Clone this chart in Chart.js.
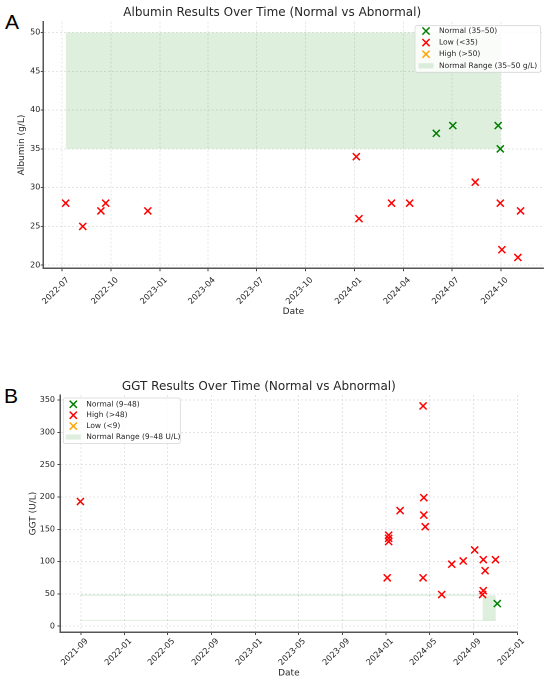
<!DOCTYPE html>
<html><head><meta charset="utf-8">
<script src="https://cdn.jsdelivr.net/npm/chart.js@4.4.1/dist/chart.umd.min.js"></script>
<style>
html,body{margin:0;padding:0;background:#fff;width:550px;height:683px;overflow:hidden;position:relative;}
canvas{position:absolute;left:0;}
.tag{position:absolute;font-family:"Liberation Sans",Arial,sans-serif;font-size:21px;line-height:21px;color:#000;}
</style></head><body>
<div class="tag" style="left:5px;top:10.5px">A</div>
<div class="tag" style="left:4px;top:385px">B</div>
<canvas id="c1" width="550" height="330" style="top:0;width:550px;height:330px"></canvas>
<canvas id="c2" width="550" height="343" style="top:340px;width:550px;height:343px"></canvas>
<script>
// ---------- Albumin data ----------
const albuminTicksX = ['2022-07','2022-10','2023-01','2023-04','2023-07','2023-10','2024-01','2024-04','2024-07','2024-10'];
const albuminTicksY = [20,25,30,35,40,45,50];
const albuminNormalDates = ['2024-06-02','2024-07-03','2024-09-26','2024-09-30'];
const albuminNormalValues = [37,38,38,35];
const albuminLowDates = ['2022-07-08','2022-08-09','2022-09-12','2022-09-21','2022-12-09','2024-01-04','2024-01-09','2024-03-10','2024-04-13','2024-08-14','2024-09-30','2024-10-03','2024-11-02','2024-11-07'];
const albuminLowValues = [28,25,27,28,27,34,26,28,28,30.7,28,22,21,27];
const albuminHighDates = [];
const albuminHighValues = [];
const albuminRange = [35,50];
const albuminRangeDates = ['2022-07-08','2024-10-01'];

// ---------- GGT data ----------
const ggtTicksX = ['2021-09','2022-01','2022-05','2022-09','2023-01','2023-05','2023-09','2024-01','2024-05','2024-09','2025-01'];
const ggtTicksY = [0,50,100,150,200,250,300,350];
const ggtNormalDates = ['2024-11-06'];
const ggtNormalValues = [35];
const ggtHighDates = ['2021-08-31','2024-01-04','2024-01-08','2024-01-08','2024-01-08','2024-02-09','2024-04-13','2024-04-13','2024-04-15','2024-04-15','2024-04-19','2024-06-04','2024-07-02','2024-08-03','2024-09-04','2024-09-26','2024-09-28','2024-09-28','2024-10-03','2024-11-01'];
const ggtHighValues = [193,75,141,136,131,179,341,75,199,172,154,49,96,101,118,49,55,103,86,103];
const ggtLowDates = [];
const ggtLowValues = [];
const ggtRange = [9,48];
const ggtRangeDates = ['2024-09-26','2024-11-02'];
const ggtRangeTraceStart = '2021-08-31';

const FONT = '"DejaVu Sans", sans-serif';
const TXT = '#262626';
const toMs = s => { const p = s.split('-').map(Number); return Date.UTC(p[0], p[1]-1, p[2] || 1); };
const pts = (dates, vals) => dates.map((d,i) => ({x: toMs(d), y: vals[i]}));
const seg = (d0, d1, v) => [{x: toMs(d0), y: v}, {x: toMs(d1), y: v}];

const boxLegend = {
  id: 'boxLegend',
  afterDatasetsDraw(chart) {
    const o = chart.options.plugins.boxLegend;
    if (!o || !o.x) return;
    const ctx = chart.ctx;
    ctx.save();
    ctx.beginPath();
    ctx.roundRect(o.x, o.y, o.w, o.h, 2);
    ctx.fillStyle = 'rgba(255,255,255,0.85)';
    ctx.fill();
    ctx.strokeStyle = '#d6d6d6';
    ctx.lineWidth = 0.8;
    ctx.stroke();
    const items = chart.data.datasets.filter(d => d.legendKind);
    items.forEach((d, i) => {
      const cy = o.rowY + i * o.rowGap;
      if (d.legendKind === 'marker') {
        const h = 3.6;
        ctx.strokeStyle = d.borderColor;
        ctx.lineWidth = 1.5;
        ctx.beginPath();
        ctx.moveTo(o.markerX - h, cy - h); ctx.lineTo(o.markerX + h, cy + h);
        ctx.moveTo(o.markerX - h, cy + h); ctx.lineTo(o.markerX + h, cy - h);
        ctx.stroke();
      } else {
        ctx.fillStyle = d.backgroundColor;
        ctx.fillRect(o.markerX - 7.5, cy - 2.6, 15, 5.2);
      }
      ctx.fillStyle = TXT;
      ctx.font = '7.5px ' + FONT;
      ctx.textBaseline = 'middle';
      ctx.textAlign = 'left';
      ctx.fillText(d.label, o.textX, cy);
    });
    ctx.restore();
  }
};

function scatterSet(label, data, color) {
  return { type: 'scatter', label, data, legendKind: 'marker', borderColor: color, backgroundColor: color,
    pointStyle: 'crossRot', pointRadius: 5, pointHoverRadius: 5, pointBorderWidth: 1.5, order: 1 };
}
function rangeSets(label, d0, d1, lo, hi) {
  const fillColor = 'rgba(0,128,0,0.13)';
  return [
    { type: 'line', label, legendKind: 'patch', data: seg(d0, d1, hi), fill: '+1', backgroundColor: fillColor,
      borderWidth: 0, pointRadius: 0, order: 3 },
    { type: 'line', label: label + ' low', data: seg(d0, d1, lo), fill: false, backgroundColor: fillColor,
      borderWidth: 0, pointRadius: 0, order: 3 }
  ];
}

function makeChart(id, c) {
  return new Chart(document.getElementById(id), {
    type: 'scatter',
    data: { datasets: c.datasets },
    plugins: [boxLegend],
    options: {
      responsive: false, animation: false, devicePixelRatio: 2,
      layout: { padding: { left: 0, right: c.padRight, top: 0, bottom: 0 } },
      plugins: {
        legend: { display: false }, tooltip: { enabled: false },
        title: { display: true, text: c.title, color: TXT, font: { family: FONT, size: 12, weight: 'normal' },
          padding: { top: c.titleTop, bottom: c.titleBottom } },
        boxLegend: c.legend
      },
      scales: {
        x: {
          type: 'linear', min: toMs(c.xMin), max: toMs(c.xMax),
          afterBuildTicks: s => { s.ticks = c.xTicks.map(t => ({ value: toMs(t) })); },
          afterFit: s => { s.height = c.xH; },
          ticks: { autoSkip: false, minRotation: 45, maxRotation: 45, padding: c.xTickPad, labelOffset: 6, color: TXT,
            font: { family: FONT, size: 8.2 }, callback: (v, i) => c.xTicks[i] },
          grid: { color: '#dedede', lineWidth: 0.8, tickColor: '#444', tickLength: 3, tickWidth: 1, tickBorderDash: [] },
          border: { display: true, color: '#555', width: 1.5, dash: [2, 2] },
          title: { display: true, text: 'Date', color: TXT, font: { family: FONT, size: 9 }, padding: { top: 0, bottom: c.xTitlePad } }
        },
        y: {
          type: 'linear', min: c.yMin, max: c.yMax,
          afterBuildTicks: s => { s.ticks = c.yTicks.map(v => ({ value: v })); },
          afterFit: s => { s.width = c.yW; },
          ticks: { padding: c.yTickPad, color: TXT, font: { family: FONT, size: 8 } },
          grid: { color: '#dedede', lineWidth: 0.8, tickColor: '#444', tickLength: 2.5, tickWidth: 1, tickBorderDash: [] },
          border: { display: true, color: '#555', width: 1.5, dash: [2, 2] },
          title: { display: true, text: c.yTitle, color: TXT, font: { family: FONT, size: 9 }, padding: { top: c.yTitlePad, bottom: 0 } }
        }
      }
    }
  });
}

makeChart('c1', {
  title: 'Albumin Results Over Time (Normal vs Abnormal)',
  titleTop: 5.5, titleBottom: 1.8,
  xMin: '2022-05-27', xMax: '2024-12-20', xTicks: albuminTicksX, xH: 61.7, xTitlePad: 12.9, xTickPad: 4,
  yMin: 19.6, yMax: 51.4, yTicks: albuminTicksY, yW: 43.3, yTickPad: 0.5, yTitle: 'Albumin (g/L)', yTitlePad: 16.3,
  padRight: 5.6,
  legend: { x: 415, y: 25.7, w: 125.7, h: 46.6, markerX: 426, textX: 439, rowY: 31, rowGap: 11.6 },
  datasets: [
    scatterSet('Normal (35–50)', pts(albuminNormalDates, albuminNormalValues), '#008000'),
    scatterSet('Low (<35)', pts(albuminLowDates, albuminLowValues), '#ff0000'),
    scatterSet('High (>50)', pts(albuminHighDates, albuminHighValues), '#ffa500'),
    ...rangeSets('Normal Range (35–50 g/L)', albuminRangeDates[0], albuminRangeDates[1], albuminRange[0], albuminRange[1])
  ]
});

makeChart('c2', {
  title: 'GGT Results Over Time (Normal vs Abnormal)',
  titleTop: 39.5, titleBottom: 1.1,
  xMin: '2021-07-05', xMax: '2025-01-02', xTicks: ggtTicksX, xH: 51, xTitlePad: 4.2, xTickPad: 1.5,
  yMin: -9, yMax: 358, yTicks: ggtTicksY, yW: 60, yTickPad: 2.5, yTitle: 'GGT (U/L)', yTitlePad: 27.9,
  padRight: 32.3,
  legend: { x: 63.3, y: 58, w: 117, h: 45.5, markerX: 73.3, textX: 86.3, rowY: 64.3, rowGap: 10.9 },
  datasets: [
    scatterSet('Normal (9–48)', pts(ggtNormalDates, ggtNormalValues), '#008000'),
    scatterSet('High (>48)', pts(ggtHighDates, ggtHighValues), '#ff0000'),
    scatterSet('Low (<9)', pts(ggtLowDates, ggtLowValues), '#ffa500'),
    ...rangeSets('Normal Range (9–48 U/L)', ggtRangeDates[0], ggtRangeDates[1], ggtRange[0], ggtRange[1]),
    { type: 'line', label: 'trace hi', data: seg(ggtRangeTraceStart, ggtRangeDates[0], ggtRange[1]), borderColor: 'rgba(0,128,0,0.10)',
      borderWidth: 1.8, pointRadius: 0, fill: false, order: 3 },
    { type: 'line', label: 'trace lo', data: seg(ggtRangeTraceStart, ggtRangeDates[1], ggtRange[0]), borderColor: 'rgba(0,128,0,0.10)',
      borderWidth: 1.2, pointRadius: 0, fill: false, order: 3 }
  ]
});
</script>
</body></html>
